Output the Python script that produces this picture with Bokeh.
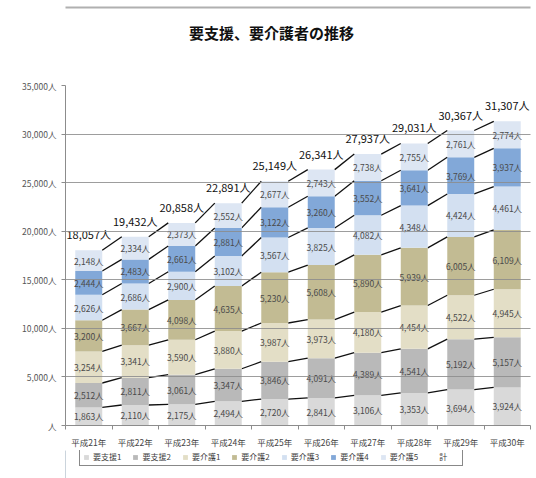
from bokeh.plotting import figure
from bokeh.layouts import column
from bokeh.models import FixedTicker, Legend, LegendItem, Range1d
from bokeh.embed import file_html
from bokeh.resources import INLINE
from bokeh.core.properties import value

title_text = "要支援、要介護者の推移"
years = ["平成21年", "平成22年", "平成23年", "平成24年", "平成25年",
         "平成26年", "平成27年", "平成28年", "平成29年", "平成30年"]
shien1 = [1863, 2110, 2175, 2494, 2720, 2841, 3106, 3353, 3694, 3924]
shien2 = [2512, 2811, 3061, 3347, 3846, 4091, 4389, 4541, 5192, 5157]
kaigo1 = [3254, 3341, 3590, 3880, 3987, 3973, 4180, 4454, 4522, 4945]
kaigo2 = [3200, 3667, 4098, 4635, 5230, 5608, 5890, 5939, 6005, 6109]
kaigo3 = [2626, 2686, 2900, 3102, 3567, 3825, 4082, 4348, 4424, 4461]
kaigo4 = [2444, 2483, 2661, 2881, 3122, 3260, 3552, 3641, 3769, 3937]
kaigo5 = [2148, 2334, 2373, 2552, 2677, 2743, 2738, 2755, 2761, 2774]
totals = [18057, 19432, 20858, 22891, 25149, 26341, 27937, 29031, 30367, 31307]
series_names = ["要支援1", "要支援2", "要介護1", "要介護2", "要介護3", "要介護4", "要介護5"]
total_name = "計"
y_ticks = [0, 5000, 10000, 15000, 20000, 25000, 30000, 35000]
y_tick_labels = ["人", "5,000人", "10,000人", "15,000人", "20,000人", "25,000人", "30,000人", "35,000人"]

series = [shien1, shien2, kaigo1, kaigo2, kaigo3, kaigo4, kaigo5]
colors = ["#d9d9d9", "#b9b9b9", "#e3dec6", "#c2bb93", "#d3e0f1", "#82a8d8", "#dde6f3"]

FONT = "Noto Sans CJK JP"
BW = 0.58
FRAME_W = 465  # frame width in px (frames of the column are aligned)

# ---- title strip ----
pt = figure(width=536, height=50, output_backend="svg", toolbar_location=None,
            x_range=Range1d(0, FRAME_W), y_range=Range1d(0, 50),
            x_axis_location=None, y_axis_location=None,
            min_border_left=0, min_border_right=0, min_border_top=0, min_border_bottom=0)
pt.outline_line_color = None
pt.xgrid.visible = False
pt.ygrid.visible = False
pt.segment(x0=[-100], y0=[43], x1=[FRAME_W + 100], y1=[43], line_color="#b0b0b0", line_width=2)
pt.text(x=[206], y=[18], text=[title_text], text_align="center", text_baseline="middle",
        text_font=value(FONT), text_font_size="15px", text_font_style="bold",
        text_color="#111111")

# ---- main chart ----
p = figure(width=536, height=400, output_backend="svg", toolbar_location=None,
           x_range=Range1d(0, 10), y_range=Range1d(0, 35000),
           min_border_left=65, min_border_right=6, min_border_top=35, min_border_bottom=24)
p.outline_line_color = None
p.background_fill_color = "white"
p.border_fill_color = "white"

xs = [i + 0.5 for i in range(len(years))]

bottoms = [0] * len(years)
for vals, col in zip(series, colors):
    tops = [b + v for b, v in zip(bottoms, vals)]
    p.vbar(x=xs, width=BW, bottom=bottoms, top=tops, fill_color=col, line_color=None)
    mids = [b + v / 2 for b, v in zip(bottoms, vals)]
    p.text(x=xs, y=mids, text=[f"{v:,}人" for v in vals], text_align="center",
           text_baseline="middle", text_font=value(FONT), text_font_size="8.5px",
           text_color="#4a4a4a")
    # series lines
    p.segment(x0=[x + BW / 2 for x in xs[:-1]], y0=tops[:-1],
              x1=[x - BW / 2 for x in xs[1:]], y1=tops[1:],
              line_color="#111111", line_width=1.3)
    bottoms = tops

p.text(x=xs, y=totals, text=[f"{v:,}人" for v in totals], text_align="center",
       text_baseline="middle", y_offset=-16, text_font=value(FONT),
       text_font_size="11px", text_color="#111111")

# axes
p.yaxis.ticker = FixedTicker(ticks=y_ticks)
p.yaxis.major_label_overrides = {t: l for t, l in zip(y_ticks, y_tick_labels)}
p.yaxis.major_label_text_font = FONT
p.yaxis.major_label_text_font_size = "8.5px"
p.yaxis.major_label_text_color = "#555555"
p.yaxis.axis_line_color = "#8c8c8c"
p.yaxis.major_tick_line_color = "#8c8c8c"
p.yaxis.major_tick_in = 0
p.yaxis.major_tick_out = 4
p.yaxis.minor_tick_line_color = None

p.xaxis.ticker = FixedTicker(ticks=xs, minor_ticks=list(range(len(years) + 1)))
p.xaxis.major_label_overrides = {x: y for x, y in zip(xs, years)}
p.xaxis.major_label_text_font = FONT
p.xaxis.major_label_text_font_size = "8.5px"
p.xaxis.major_label_text_color = "#444444"
p.xaxis.axis_line_color = "#8c8c8c"
p.xaxis.major_tick_line_color = None
p.xaxis.minor_tick_line_color = "#8c8c8c"
p.xaxis.minor_tick_in = 0
p.xaxis.minor_tick_out = 4
p.xaxis.major_label_standoff = 4

p.xgrid.visible = False
p.ygrid.ticker = FixedTicker(ticks=y_ticks)
p.ygrid.grid_line_color = "#8c8c8c"
p.ygrid.grid_line_width = 1.2
p.ygrid.grid_line_alpha = 0.85
p.ygrid.level = "overlay"

# ---- legend strip ----
pl = figure(width=536, height=28, output_backend="svg", toolbar_location=None,
            x_range=Range1d(0, FRAME_W), y_range=Range1d(0, 1),
            x_axis_location=None, y_axis_location=None,
            min_border_left=0, min_border_right=0, min_border_top=0, min_border_bottom=0)
pl.outline_line_color = None
pl.xgrid.visible = False
pl.ygrid.visible = False
# legend proxies, placed outside the visible range
leg_renderers = [pl.vbar(x=[-1000], top=[1], bottom=[0], width=1, fill_color=col, line_color=None)
                 for col in colors]
tot_r = pl.scatter(x=[-1000], y=[0.5], size=1, fill_alpha=0, line_alpha=0)

items = [LegendItem(label=n, renderers=[r]) for n, r in zip(series_names, leg_renderers)]
items.append(LegendItem(label=total_name, renderers=[tot_r]))
legend = Legend(items=items, orientation="horizontal", location=(14, 12))
legend.label_text_font = FONT
legend.label_text_font_size = "8px"
legend.label_text_color = "#404040"
legend.glyph_width = 6
legend.glyph_height = 6
legend.label_standoff = 4
legend.label_height = 8
legend.spacing = 11
legend.padding = 3
legend.margin = 0
legend.border_line_color = "#111111"
legend.border_line_width = 1
legend.background_fill_alpha = 1
pl.add_layout(legend, "center")

layout = column(pt, p, pl, spacing=0)
open("out.html", "w").write(file_html(layout, INLINE))
